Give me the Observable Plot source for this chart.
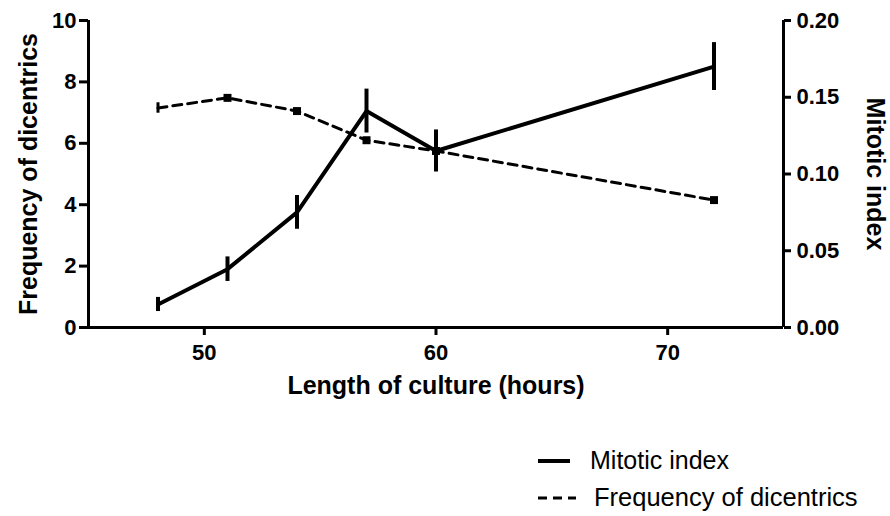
<!DOCTYPE html>
<html>
<head>
<meta charset="utf-8">
<script src="https://cdn.jsdelivr.net/npm/d3@7"></script>
<script src="https://cdn.jsdelivr.net/npm/@observablehq/plot@0.6"></script>
<style>
  html, body { margin: 0; padding: 0; background: #fff; }
  #wrap { width: 890px; height: 516px; position: relative; font-family: "Liberation Sans", Arial, sans-serif; }
  #legend { position: relative; width: 890px; height: 96px; }
  .item { position: absolute; left: 538px; display: flex; align-items: center; font-size: 25px; color: #000; }
  .item svg { margin-right: 18px; }
</style>
</head>
<body>
<div id="wrap">
  <div id="chart"></div>
  <div id="legend">
    <div class="item" style="top:26px"><svg width="34" height="8"><line x1="0" y1="4" x2="32" y2="4" stroke="#000" stroke-width="4"/></svg><span>Mitotic index</span></div>
    <div class="item" style="top:63px"><svg width="38" height="8"><line x1="0" y1="4" x2="38" y2="4" stroke="#000" stroke-width="3" stroke-dasharray="9,6"/></svg><span style="font-size:25.5px">Frequency of dicentrics</span></div>
  </div>
</div>
<script>
// Data
const hours = [48, 51, 54, 57, 60, 72];
const mitoticIndex = [0.015, 0.038, 0.075, 0.141, 0.115, 0.170];
const mitoticErr = [0.0046, 0.008, 0.011, 0.0143, 0.0137, 0.0156];
const dicentrics = [7.15, 7.48, 7.05, 6.1, 5.75, 4.15];
const dicentricsErr = [0.17, 0.08, 0.07, 0.07, 0.07, 0.07];
const xTicks = [50, 60, 70];
const leftTicks = [0, 2, 4, 6, 8, 10];
const rightTicks = [0, 0.05, 0.10, 0.15, 0.20];
const leftMax = 10, rightMax = 0.20;
const k = leftMax / rightMax; // right axis mapped onto left scale

const mi = hours.map((h, i) => ({h, v: mitoticIndex[i] * k, lo: (mitoticIndex[i] - mitoticErr[i]) * k, hi: (mitoticIndex[i] + mitoticErr[i]) * k}));
const dc = hours.map((h, i) => ({h, v: dicentrics[i], lo: dicentrics[i] - dicentricsErr[i], hi: dicentrics[i] + dicentricsErr[i], marker: i > 0}));

const font = "Liberation Sans, Arial, sans-serif";

const chart = Plot.plot({
  width: 890,
  height: 420,
  marginLeft: 88,
  marginRight: 107,
  marginTop: 20,
  marginBottom: 93,
  style: {fontFamily: font, color: "#000", background: "#fff", overflow: "visible"},
  x: {domain: [45, 75]},
  y: {domain: [0, leftMax]},
  marks: [
    Plot.axisX(xTicks, {anchor: "bottom", tickSize: 8, tickPadding: 9, strokeWidth: 3, fontSize: 22, fontWeight: "bold", label: null}),
    Plot.axisY(leftTicks, {anchor: "left", tickSize: 9, tickPadding: 3, strokeWidth: 3, fontSize: 22, fontWeight: "bold", label: null}),
    Plot.axisY(rightTicks.map(t => t * k), {anchor: "right", tickSize: 7, tickPadding: 6, strokeWidth: 3, fontSize: 22, fontWeight: "bold", label: null, tickFormat: d => (d / k).toFixed(2)}),
    Plot.ruleX([45, 75], {stroke: "#000", strokeWidth: 3}),
    Plot.ruleY([0], {stroke: "#000", strokeWidth: 3}),
    // Frequency of dicentrics (dashed)
    Plot.line(dc, {x: "h", y: "v", stroke: "#000", strokeWidth: 3, strokeDasharray: "9,6"}),
    Plot.ruleX(dc, {x: "h", y1: "lo", y2: "hi", stroke: "#000", strokeWidth: 3}),
    Plot.dot(dc.filter(d => d.marker), {x: "h", y: "v", symbol: "square", r: 4.5, fill: "#000"}),
    // Mitotic index (solid)
    Plot.line(mi, {x: "h", y: "v", stroke: "#000", strokeWidth: 4}),
    Plot.ruleX(mi, {x: "h", y1: "lo", y2: "hi", stroke: "#000", strokeWidth: 4}),
    // Axis titles
    Plot.text(["Length of culture (hours)"], {frameAnchor: "bottom", dy: 58, textAnchor: "middle", lineAnchor: "middle", fontSize: 25, fontWeight: "bold", fontFamily: font}),
    Plot.text(["Frequency of dicentrics"], {frameAnchor: "left", dx: -60, rotate: -90, textAnchor: "middle", lineAnchor: "middle", fontSize: 25, fontWeight: "bold", fontFamily: font}),
    Plot.text(["Mitotic index"], {frameAnchor: "right", dx: 91, rotate: 90, textAnchor: "middle", lineAnchor: "middle", fontSize: 25, fontWeight: "bold", fontFamily: font})
  ]
});
document.getElementById("chart").appendChild(chart);
</script>
</body>
</html>
